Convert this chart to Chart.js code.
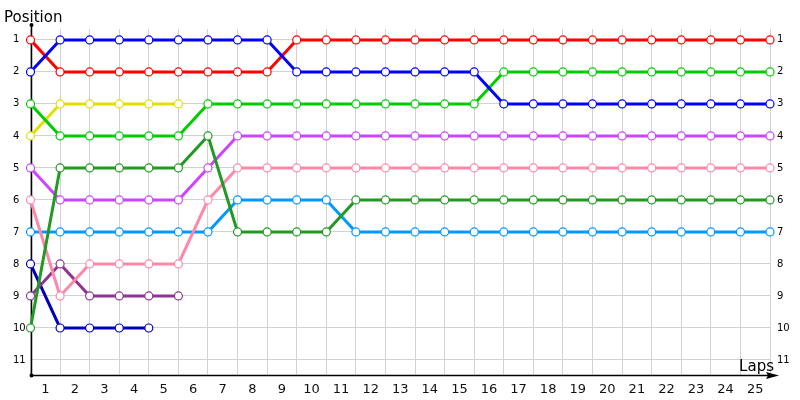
<!DOCTYPE html>
<html>
<head>
<meta charset="utf-8">
<script src="https://cdn.jsdelivr.net/npm/chart.js@4/dist/chart.umd.min.js"></script>
<style>
  html, body { margin: 0; padding: 0; background: #fff; }
  #wrap { width: 800px; height: 400px; }
</style>
</head>
<body>
<div id="wrap"><canvas id="race"></canvas></div>
<script>
// lap numbers (0 = grid) and positions per car
const laps = [0,1,2,3,4,5,6,7,8,9,10,11,12,13,14,15,16,17,18,19,20,21,22,23,24,25];
const positionTicks = [1,2,3,4,5,6,7,8,9,10,11];

const blueCar      = [2,1,1,1,1,1,1,1,1,2,2,2,2,2,2,2,3,3,3,3,3,3,3,3,3,3];
const redCar       = [1,2,2,2,2,2,2,2,2,1,1,1,1,1,1,1,1,1,1,1,1,1,1,1,1,1];
const greenCar     = [3,4,4,4,4,4,3,3,3,3,3,3,3,3,3,3,2,2,2,2,2,2,2,2,2,2];
const yellowCar    = [4,3,3,3,3,3];
const darkGreenCar = [10,5,5,5,5,5,4,7,7,7,7,6,6,6,6,6,6,6,6,6,6,6,6,6,6,6];
const violetCar    = [5,6,6,6,6,6,5,4,4,4,4,4,4,4,4,4,4,4,4,4,4,4,4,4,4,4];
const pinkCar      = [6,9,8,8,8,8,6,5,5,5,5,5,5,5,5,5,5,5,5,5,5,5,5,5,5,5];
const skyCar       = [7,7,7,7,7,7,7,6,6,6,6,7,7,7,7,7,7,7,7,7,7,7,7,7,7,7];
const plumCar      = [9,8,9,9,9,9];
const navyCar      = [8,10,10,10,10];

const cars = [
  { data: blueCar, color: '#0000ff' },
  { data: redCar, color: '#ff0000' },
  { data: greenCar, color: '#00cc00' },
  { data: yellowCar, color: '#e0e000' },
  { data: darkGreenCar, color: '#229922' },
  { data: violetCar, color: '#cc44ff' },
  { data: pinkCar, color: '#ff88aa' },
  { data: skyCar, color: '#0099ff' },
  { data: plumCar, color: '#8e3594' },
  { data: navyCar, color: '#0000bb' },
];

const datasets = cars.map(c => ({
  data: c.data.map((p, i) => ({ x: laps[i], y: p })),
  borderColor: c.color,
  borderWidth: 3,
  pointRadius: 4,
  pointBorderWidth: 1.2,
  pointBorderColor: c.color,
  pointBackgroundColor: '#ffffff',
  pointHoverRadius: 4,
  tension: 0,
  clip: false,
  yAxisID: 'y',
}));

// axis lines, arrow and the two axis captions
const axesDecor = {
  id: 'axesDecor',
  beforeDatasetsDraw(chart) {
    const { ctx, chartArea } = chart;
    const x0 = Math.round(chartArea.left) + 0.5;
    const yb = Math.round(chartArea.bottom) - 0.5;
    ctx.save();
    ctx.strokeStyle = '#000';
    ctx.fillStyle = '#000';
    ctx.lineWidth = 1.5;
    ctx.beginPath();
    ctx.moveTo(x0, 25);
    ctx.lineTo(x0, yb);
    ctx.lineTo(772, yb);
    ctx.stroke();
    ctx.beginPath();
    ctx.moveTo(779, yb);
    ctx.lineTo(766, yb - 3.5);
    ctx.lineTo(768, yb);
    ctx.lineTo(766, yb + 3.5);
    ctx.closePath();
    ctx.fill();
    ctx.beginPath();
    ctx.arc(x0, 25, 2, 0, Math.PI * 2);
    ctx.arc(x0, yb, 2, 0, Math.PI * 2);
    ctx.fill();
    ctx.font = '15px "DejaVu Sans"';
    ctx.textBaseline = 'alphabetic';
    ctx.textAlign = 'left';
    ctx.fillText('Position', 4, 22);
    ctx.textAlign = 'right';
    ctx.fillText('Laps', 774, 371);
    ctx.restore();
  }
};

new Chart(document.getElementById('race'), {
  type: 'line',
  data: { datasets },
  options: {
    responsive: true,
    maintainAspectRatio: false,
    animation: false,
    layout: { padding: { left: 13, top: 29, right: 0, bottom: 0 } },
    plugins: { legend: { display: false }, tooltip: { enabled: false } },
    scales: {
      x: {
        type: 'linear',
        min: 0,
        max: 25,
        afterFit: s => { s.height = 24; },
        border: { display: false },
        grid: { color: '#d2d2d2', drawTicks: false },
        ticks: {
          stepSize: 1,
          autoSkip: false,
          maxRotation: 0,
          padding: 6,
          labelOffset: -14.8,
          color: '#111',
          font: { family: 'DejaVu Sans', size: 13 },
          callback: v => (v === 0 ? '' : v),
        },
      },
      y: {
        type: 'linear',
        reverse: true,
        min: 0.66,
        max: 11.5,
        afterBuildTicks: s => { s.ticks = positionTicks.map(v => ({ value: v })); },
        afterFit: s => { s.width = 17.5; },
        border: { display: false },
        grid: { color: '#d2d2d2', drawTicks: false },
        ticks: {
          crossAlign: 'far',
          color: '#000',
          font: { family: 'DejaVu Sans', size: 10 },
        },
      },
      yRight: {
        type: 'linear',
        position: 'right',
        reverse: true,
        min: 0.66,
        max: 11.5,
        afterBuildTicks: s => { s.ticks = positionTicks.map(v => ({ value: v })); },
        afterFit: s => { s.width = 30; },
        border: { display: false },
        grid: { display: false, drawTicks: false },
        ticks: {
          padding: 7,
          color: '#000',
          font: { family: 'DejaVu Sans', size: 10 },
        },
      },
    },
  },
  plugins: [axesDecor],
});
</script>
</body>
</html>
